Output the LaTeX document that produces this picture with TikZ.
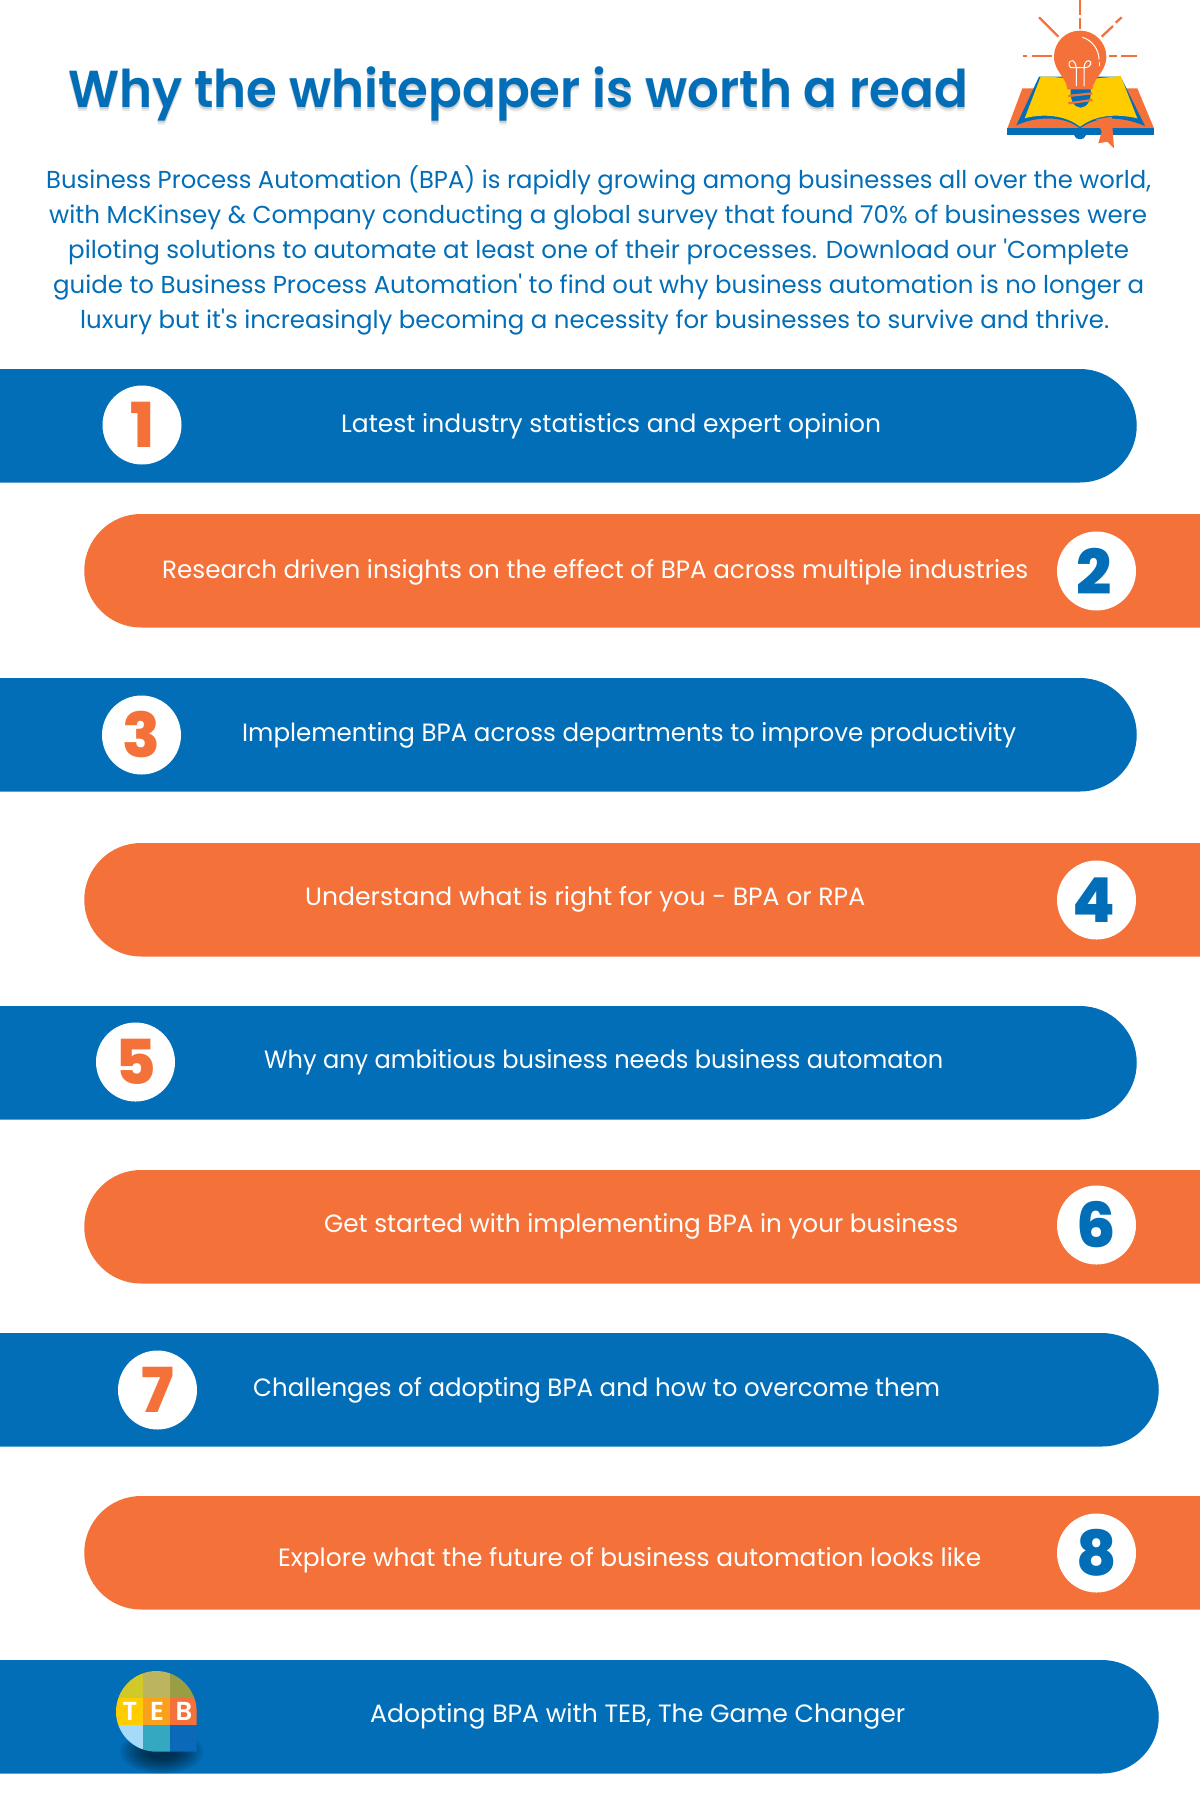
\documentclass[tikz,border=0pt]{standalone}
\usepackage{fontspec}
\usepackage{graphicx}
\setmainfont{Poppins}[Ligatures=TeXOff]
\newfontfamily\digitfont{Poppins ExtraBold}
\newfontfamily\titlefont{Poppins SemiBold}
\definecolor{tebblue}{HTML}{036EB8}
\definecolor{teborange}{HTML}{F47239}
\definecolor{bookyellow}{HTML}{FFCC00}
\definecolor{logoa}{HTML}{D0C92A}
\definecolor{logob}{HTML}{BDB45F}
\definecolor{logoc}{HTML}{9A9E43}
\definecolor{logod}{HTML}{F9A11B}
\definecolor{logoe}{HTML}{A5DAF8}
\definecolor{logof}{HTML}{33A8C0}
\definecolor{logog}{HTML}{0A69B8}
\newsavebox{\fitbox}
\newcommand{\fitx}[2]{\sbox{\fitbox}{#2}\pgfmathsetmacro{\fitscale}{#1/(\wd\fitbox/1pt)}\scalebox{\fitscale}[1]{\usebox{\fitbox}}}
\newcommand{\titlewords}{Why the whitepaper is worth a read}
\tikzset{
 x=1pt,y=-1pt,
 bodytxt/.style={anchor=base west,inner sep=0pt,text=tebblue,font=\fontsize{24.5}{28}\selectfont},
 bartxt/.style={anchor=base west,inner sep=0pt,text=white,font=\fontsize{25}{28}\selectfont},
 titletxt/.style={anchor=base west,inner sep=0pt,font=\fontsize{52}{60}\titlefont},
 numcircle/.style={circle,fill=white,minimum size=79pt,inner sep=0pt,font=\fontsize{62}{62}\digitfont},
 ray/.style={draw=teborange,line width=2.3pt},
}
\begin{document}
\begin{tikzpicture}
\useasboundingbox (0,0) rectangle (1200,1800);
\fill[white] (0,0) rectangle (1200,1800);
% title with its soft shadow, set in one node
\node[titletxt,text=tebblue] (title) at (68,107) {\rlap{\raisebox{-4pt}{\textcolor{black!9}{\fitx{900}{\titlewords}}}}\rlap{\raisebox{-2.5pt}{\textcolor{black!20}{\fitx{900}{\titlewords}}}}\fitx{900}{\titlewords}};
% intro
\node[bodytxt] (l1) at (46,188) {\fitx{1105}{Business Process Automation (BPA) is rapidly growing among businesses all over the world,}};
\node[bodytxt] (l2) at (49,223) {\fitx{1098}{with McKinsey \& Company conducting a global survey that found 70\% of businesses were}};
\node[bodytxt] (l3) at (68,258) {\fitx{1061}{piloting solutions to automate at least one of their processes. Download our 'Complete}};
\node[bodytxt] (l4) at (53,293) {\fitx{1091}{guide to Business Process Automation' to find out why business automation is no longer a}};
\node[bodytxt] (l5) at (80,328) {\fitx{1029}{luxury but it's increasingly becoming a necessity for businesses to survive and thrive.}};
% bars
\fill[tebblue] (0,369) -- (1080,369) .. controls (1111.3,369) and (1136.75,394.4) .. (1136.75,425.75) .. controls (1136.75,457.1) and (1111.3,482.5) .. (1080,482.5) -- (0,482.5) -- cycle;
\fill[teborange] (1200,514) -- (141,514) .. controls (109.7,514) and (84.25,539.4) .. (84.25,570.75) .. controls (84.25,602.1) and (109.7,627.5) .. (141,627.5) -- (1200,627.5) -- cycle;
\fill[tebblue] (0,678) -- (1080,678) .. controls (1111.3,678) and (1136.75,703.4) .. (1136.75,734.75) .. controls (1136.75,766.1) and (1111.3,791.5) .. (1080,791.5) -- (0,791.5) -- cycle;
\fill[teborange] (1200,843) -- (141,843) .. controls (109.7,843) and (84.25,868.4) .. (84.25,899.75) .. controls (84.25,931.1) and (109.7,956.5) .. (141,956.5) -- (1200,956.5) -- cycle;
\fill[tebblue] (0,1006) -- (1080,1006) .. controls (1111.3,1006) and (1136.75,1031.4) .. (1136.75,1062.75) .. controls (1136.75,1094.1) and (1111.3,1119.5) .. (1080,1119.5) -- (0,1119.5) -- cycle;
\fill[teborange] (1200,1170) -- (141,1170) .. controls (109.7,1170) and (84.25,1195.4) .. (84.25,1226.75) .. controls (84.25,1258.1) and (109.7,1283.5) .. (141,1283.5) -- (1200,1283.5) -- cycle;
\fill[tebblue] (0,1333) -- (1102,1333) .. controls (1133.3,1333) and (1158.75,1358.4) .. (1158.75,1389.75) .. controls (1158.75,1421.1) and (1133.3,1446.5) .. (1102,1446.5) -- (0,1446.5) -- cycle;
\fill[teborange] (1200,1496) -- (141,1496) .. controls (109.7,1496) and (84.25,1521.4) .. (84.25,1552.75) .. controls (84.25,1584.1) and (109.7,1609.5) .. (141,1609.5) -- (1200,1609.5) -- cycle;
\fill[tebblue] (0,1660) -- (1102,1660) .. controls (1133.3,1660) and (1158.75,1685.4) .. (1158.75,1716.75) .. controls (1158.75,1748.1) and (1133.3,1773.5) .. (1102,1773.5) -- (0,1773.5) -- cycle;
% bar texts
\node[bartxt] (t1) at (341,432) {\fitx{540}{Latest industry statistics and expert opinion}};
\node[bartxt] (t2) at (162,578) {\fitx{866}{Research driven insights on the effect of BPA across multiple industries}};
\node[bartxt] (t3) at (242,741) {\fitx{774}{Implementing BPA across departments to improve productivity}};
\node[bartxt] (t4) at (305,905) {\fitx{560}{Understand what is right for you - BPA or RPA}};
\node[bartxt] (t5) at (264,1068) {\fitx{679}{Why any ambitious business needs business automaton}};
\node[bartxt] (t6) at (324,1232) {\fitx{634}{Get started with implementing BPA in your business}};
\node[bartxt] (t7) at (253,1396) {\fitx{687}{Challenges of adopting BPA and how to overcome them}};
\node[bartxt] (t8) at (278,1566) {\fitx{703}{Explore what the future of business automation looks like}};
\node[bartxt] (t9) at (370,1722) {\fitx{535}{Adopting BPA with TEB, The Game Changer}};
% number circles
\node[numcircle,text=teborange] (c1) at (142,425) {1};
\node[numcircle,text=tebblue] (c2) at (1096.5,571) {\hspace{-5pt}2};
\node[numcircle,text=teborange] (c3) at (141.5,735) {3};
\node[numcircle,text=tebblue] (c4) at (1096.5,900) {\hspace{-5pt}4};
\node[numcircle,text=teborange] (c5) at (135.5,1062) {5};
\node[numcircle,text=tebblue] (c6) at (1096.5,1225) {6};
\node[numcircle,text=teborange] (c7) at (157.5,1390) {7};
\node[numcircle,text=tebblue] (c8) at (1096.5,1553) {8};
% book and bulb icon
\begin{scope}[shift={(959,0)},scale=0.33333]
 \fill[teborange] (145,385) -- (190,265) -- (535,265) -- (585,385) -- cycle;
 \fill[tebblue] (172,376) -- (240,230) -- (485,230) -- (558,378) .. controls (480,345) and (410,350) .. (363,385) .. controls (320,350) and (240,345) .. (172,376) -- cycle;
 \fill[tebblue] (145,385) rectangle (585,405);
 \fill[tebblue] (345,405) .. controls (348,422) and (378,422) .. (381,405) -- cycle;
 \fill[bookyellow] (197,355) -- (245,230) .. controls (280,228) and (310,235) .. (363,240) .. controls (410,235) and (450,232) .. (485,228) -- (535,355) .. controls (470,340) and (410,345) .. (363,380) .. controls (320,345) and (250,340) .. (197,355) -- cycle;
 \fill[teborange] (412,358) -- (458,350) -- (465,445) -- (445,425) -- (418,430) -- (428,395) -- cycle;
 % rays
 \draw[ray] (363,0) -- (363,45);
 \draw[ray] (363,55) -- (363,88);
 \draw[ray] (240,52) -- (298,110);
 \draw[ray] (428,110) -- (462,78);
 \draw[ray] (470,68) -- (488,52);
 \draw[ray] (193,169) -- (205,169);
 \draw[ray] (218,169) -- (278,169);
 \draw[ray] (450,169) -- (475,169);
 \draw[ray] (487,169) -- (535,169);
 % bulb
 \fill[tebblue] (335,266) -- (395,266) .. controls (398,300) and (385,322) .. (365,323) .. controls (345,322) and (332,300) .. (335,266) -- cycle;
 \fill[teborange] (363,92) .. controls (408,92) and (442,128) .. (442,170) .. controls (442,215) and (405,230) .. (400,268) -- (325,268) .. controls (322,230) and (285,215) .. (285,170) .. controls (285,128) and (318,92) .. (363,92) -- cycle;
 \draw[teborange,line width=2.2pt] (328,288) -- (400,280);
 \draw[teborange,line width=2.2pt] (328,310) -- (400,300);
 \draw[white,line width=1pt] (370,112) .. controls (400,120) and (420,150) .. (420,178);
 \draw[white,line width=1pt] (422,185) -- (422,198);
 \draw[white,line width=1pt] (352,258) -- (352,205) .. controls (352,195) and (345,182) .. (340,182) .. controls (330,182) and (325,195) .. (335,203) -- (375,203) .. controls (400,203) and (400,182) .. (388,182) .. controls (380,182) and (375,195) .. (375,205) -- (375,258);
\end{scope}
% TEB logo
\begin{scope}[shift={(80,1650)},scale=0.33333]
 \begin{scope}
  \clip (0,28) rectangle (480,371);
  \foreach \s in {1,0.92,...,0.35}{
   \fill[black,opacity=0.08] (245,305) ellipse[x radius=125*\s,y radius=66*\s];
  }
 \end{scope}
 \begin{scope}
  \clip (229,63) .. controls (296,63) and (350,118) .. (350,185) -- (350,305) -- (229,305) .. controls (162,305) and (108,251) .. (108,185) .. controls (108,118) and (162,63) .. (229,63) -- cycle;
  \fill[logoa] (100,55) rectangle (190,143);
  \fill[logob] (190,55) rectangle (270,143);
  \fill[logoc] (270,55) rectangle (355,143);
  \fill[bookyellow] (100,143) rectangle (190,225);
  \fill[logod] (190,143) rectangle (270,225);
  \fill[teborange] (270,143) rectangle (355,225);
  \fill[logoe] (100,225) rectangle (190,310);
  \fill[logof] (190,225) rectangle (270,310);
  \fill[logog] (270,225) rectangle (355,310);
 \end{scope}
 \node[text=white,font=\fontsize{26}{26}\titlefont,inner sep=0pt] (lt) at (150,183) {T};
 \node[text=white,font=\fontsize{26}{26}\titlefont,inner sep=0pt] (le) at (231,183) {E};
 \node[text=white,font=\fontsize{26}{26}\titlefont,inner sep=0pt] (lb) at (312,183) {B};
\end{scope}
\end{tikzpicture}
\end{document}
